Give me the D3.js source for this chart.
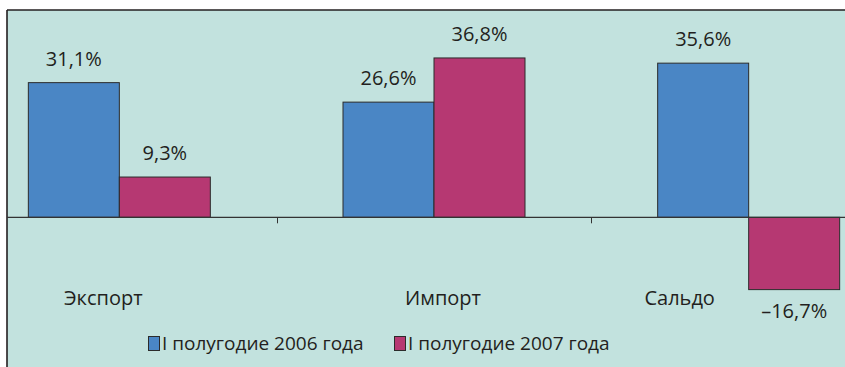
<!DOCTYPE html>
<html>
<head>
<meta charset="utf-8">
<script src="https://cdn.jsdelivr.net/npm/d3@7"></script>
<style>
  html, body { margin: 0; padding: 0; background: #ffffff; }
  svg { display: block; }
  text { font-family: "Open Sans", "Noto Sans", sans-serif; fill: #231f20; }
</style>
</head>
<body>
<svg id="chart" width="845" height="367"></svg>
<script>
// Trade growth, first half of year, % change
const categories = ["Экспорт", "Импорт", "Сальдо"];
const seriesNames = ["I полугодие 2006 года", "I полугодие 2007 года"];
const values2006 = [31.1, 26.6, 35.6];
const values2007 = [9.3, 36.8, -16.7];
const valueLabels2006 = ["31,1%", "26,6%", "35,6%"];
const valueLabels2007 = ["9,3%", "36,8%", "–16,7%"];

const colors = ["#4a86c5", "#b63872"];
const catLabelDx = [-16, 9, -69];

const svg = d3.select("#chart");
const W = 845, H = 367;

// panel
const panel = { x: 7, y: 10 };
svg.append("rect")
  .attr("x", panel.x).attr("y", panel.y)
  .attr("width", W - panel.x + 5).attr("height", H - panel.y + 5)
  .attr("fill", "#c2e2de");
svg.append("line")
  .attr("x1", panel.x).attr("x2", W)
  .attr("y1", panel.y).attr("y2", panel.y)
  .attr("stroke", "#231f20").attr("stroke-width", 1.6);
svg.append("line")
  .attr("x1", panel.x).attr("x2", panel.x)
  .attr("y1", panel.y).attr("y2", H)
  .attr("stroke", "#231f20").attr("stroke-width", 1.6);

// scales
const x0 = d3.scaleBand().domain(categories).range([-38, 906]).padding(0);
const x1 = d3.scaleBand().domain([0, 1]).range([0, x0.bandwidth()])
  .paddingInner(0).paddingOuter(0.729);
const y = d3.scaleLinear().domain([-20, 40]).range([303.9, 44.1]);

const rows = categories.map((c, i) => ({
  cat: c, i,
  vals: [
    { s: 0, v: values2006[i], label: valueLabels2006[i] },
    { s: 1, v: values2007[i], label: valueLabels2007[i] }
  ]
}));

// bars
const groups = svg.append("g").selectAll("g").data(rows).join("g")
  .attr("transform", d => `translate(${x0(d.cat)},0)`);

groups.selectAll("rect").data(d => d.vals).join("rect")
  .attr("x", d => x1(d.s))
  .attr("width", x1.bandwidth())
  .attr("y", d => y(Math.max(0, d.v)))
  .attr("height", d => Math.abs(y(d.v) - y(0)))
  .attr("fill", d => colors[d.s])
  .attr("stroke", "#2b2b2b").attr("stroke-width", 1);

groups.selectAll("text.val").data(d => d.vals).join("text")
  .attr("class", "val")
  .attr("x", d => x1(d.s) + x1.bandwidth() / 2)
  .attr("y", d => d.v >= 0 ? y(d.v) - 17 : y(d.v) + 28.5)
  .attr("text-anchor", "middle")
  .attr("font-size", 20)
  .text(d => d.label);

// zero axis with category separators
svg.append("line")
  .attr("x1", panel.x).attr("x2", W)
  .attr("y1", y(0)).attr("y2", y(0))
  .attr("stroke", "#333333").attr("stroke-width", 1.2);
svg.append("g").selectAll("line").data(categories.slice(1)).join("line")
  .attr("x1", d => Math.round(x0(d)) + 0.5).attr("x2", d => Math.round(x0(d)) + 0.5)
  .attr("y1", y(0)).attr("y2", y(0) + 6)
  .attr("stroke", "#333333").attr("stroke-width", 1);

// category labels
svg.append("g").selectAll("text").data(categories).join("text")
  .attr("x", (d, i) => x0(d) + x0.bandwidth() / 2 + catLabelDx[i])
  .attr("y", 305)
  .attr("text-anchor", "middle")
  .attr("font-size", 20)
  .text(d => d);

// legend
const legendX = [148, 394];
const lg = svg.append("g").selectAll("g").data(seriesNames).join("g")
  .attr("transform", (d, i) => `translate(${legendX[i]},0)`);
lg.append("rect")
  .attr("x", 0.5).attr("y", 336.5)
  .attr("width", 11).attr("height", 14)
  .attr("fill", (d, i) => colors[i])
  .attr("stroke", "#2b2b2b").attr("stroke-width", 1);
lg.append("text")
  .attr("x", 14).attr("y", 349.5)
  .attr("font-size", 19)
  .text(d => d);
</script>
</body>
</html>
